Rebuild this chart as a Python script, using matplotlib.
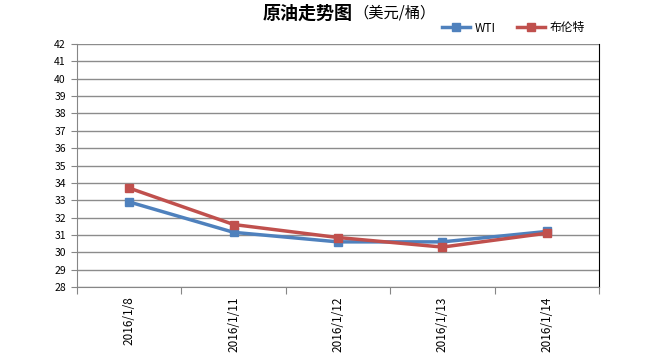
import matplotlib
matplotlib.use("Agg")
import matplotlib.pyplot as plt
from matplotlib.ticker import FixedLocator

plt.rcParams['font.family'] = ['Noto Sans CJK SC', 'DejaVu Sans']

dates = ["2016/1/8", "2016/1/11", "2016/1/12", "2016/1/13", "2016/1/14"]
wti = [32.9, 31.15, 30.6, 30.6, 31.2]
brent = [33.7, 31.6, 30.85, 30.3, 31.1]
yticks = list(range(28, 43))

fig = plt.figure(figsize=(6.5, 3.61), dpi=100)
ax = fig.add_axes([77/650, 1-287/361, 522/650, 243/361])

x = [i + 0.5 for i in range(len(dates))]
ax.plot(x, wti, color='#4f81bd', lw=2.5, marker='s', ms=5.5, label='WTI')
ax.plot(x, brent, color='#c0504d', lw=2.5, marker='s', ms=5.5, label='布伦特')

ax.set_xlim(0, len(dates))
ax.set_ylim(28, 42)
ax.yaxis.set_major_locator(FixedLocator(yticks))
ax.set_yticklabels([str(v) for v in yticks], fontsize=7.5)
ax.grid(axis='y', color='#8c8c8c', lw=1)
ax.set_axisbelow(True)

ax.xaxis.set_major_locator(FixedLocator(range(len(dates)+1)))
ax.xaxis.set_minor_locator(FixedLocator(x))
ax.set_xticklabels([])
ax.set_xticklabels(dates, minor=True, rotation=90, fontsize=8.5, va='top', ha='center')
ax.tick_params(axis='x', which='minor', length=0, pad=7)
ax.tick_params(axis='x', which='major', length=5, direction='out', color='#868686')
ax.tick_params(axis='y', length=4, color='#868686', pad=4)

for s in ['left', 'bottom']:
    ax.spines[s].set_color('#868686')
ax.spines['right'].set_color('black')
ax.spines['top'].set_visible(False)

fig.text(353/650, 1-13/361, '原油走势图', fontsize=13, fontweight='bold', ha='right', va='center')
fig.text(353/650, 1-13/361, '（美元/桶）', fontsize=11, ha='left', va='center')

fig.legend(loc='center right', bbox_to_anchor=(590/650, 1-28/361), ncol=2, frameon=False,
           fontsize=8.5, handlelength=2.4, handletextpad=0.4, columnspacing=1.8,
           borderaxespad=0, markerscale=1.1)

fig.savefig('out.png', dpi=100)
